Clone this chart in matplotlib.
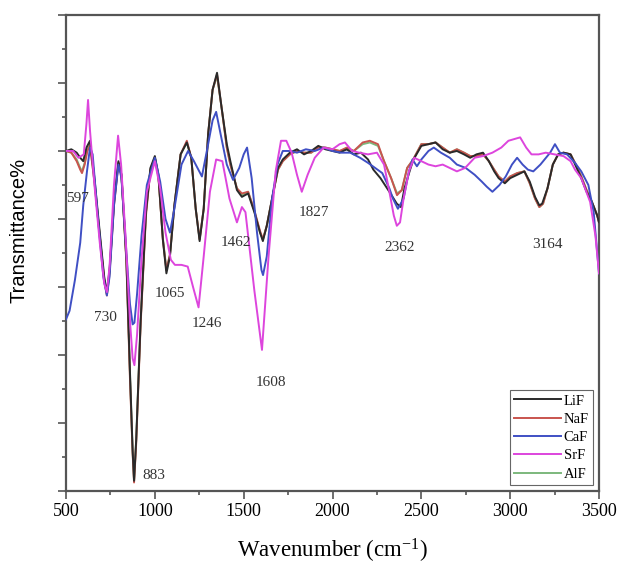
import matplotlib
matplotlib.use("Agg")
import matplotlib.pyplot as plt
from matplotlib.ticker import MultipleLocator, NullFormatter

plt.rcParams['font.family'] = ['Liberation Serif', 'DejaVu Serif']
plt.rcParams['mathtext.fontset'] = 'custom'
plt.rcParams['mathtext.rm'] = 'Liberation Serif'
plt.rcParams['mathtext.it'] = 'Liberation Serif:italic'

# ---------------- data ----------------
lif_wn = [500, 530, 560, 580, 597, 615, 635, 660, 690, 715, 730, 745, 770, 795, 812, 840, 860, 875, 883, 895,
          920, 950, 975, 1000, 1020, 1045, 1065, 1085, 1110, 1145, 1180, 1205, 1230, 1252, 1275, 1300, 1325, 1350,
          1375, 1405, 1425, 1462, 1490, 1525, 1560, 1592, 1608, 1630, 1660, 1693, 1720, 1760, 1800, 1840, 1880,
          1920, 1960, 2000, 2040, 2080, 2120, 2160, 2200, 2230, 2270, 2320, 2362, 2385, 2405, 2436, 2455, 2500,
          2540, 2580, 2620, 2660, 2700, 2740, 2775, 2810, 2847, 2880, 2910, 2935, 2970, 3000, 3040, 3080, 3110,
          3140, 3164, 3180, 3210, 3240, 3270, 3300, 3340, 3370, 3400, 3430, 3460, 3490, 3500]
lif_t = [10.0, 10.05, 9.95, 9.8, 9.7, 10.1, 10.3, 9.2, 7.6, 6.3, 5.85, 6.5, 8.5, 9.7, 9.3, 6.8, 3.5, 1.2, 0.3, 1.5,
         5.0, 8.2, 9.5, 9.85, 9.3, 7.4, 6.4, 6.9, 8.4, 9.9, 10.25, 9.8, 8.3, 7.35, 8.3, 10.5, 11.8, 12.3,
         11.3, 10.2, 9.7, 8.85, 8.65, 8.75, 8.2, 7.6, 7.35, 7.8, 8.6, 9.5, 9.75, 9.95, 10.05, 9.9, 10.0,
         10.15, 10.05, 10.0, 9.95, 10.05, 9.9, 9.95, 9.75, 9.45, 9.2, 8.8, 8.45, 8.35, 8.9, 9.44, 9.74, 10.15,
         10.2, 10.25, 10.05, 9.95, 10.0, 9.9, 9.8, 9.9, 9.95, 9.7, 9.4, 9.2, 9.05, 9.2, 9.3, 9.4, 9.1,
         8.65, 8.4, 8.45, 8.9, 9.6, 9.9, 9.95, 9.9, 9.55, 9.2, 8.8, 8.5, 8.1, 7.9]

naf_wn = [500, 530, 560, 580, 590, 605, 620, 635, 660, 690, 715, 730, 745, 770, 795, 812, 840, 860, 875, 883, 895,
          920, 950, 975, 1000, 1020, 1045, 1065, 1085, 1110, 1145, 1180, 1205, 1230, 1252, 1275, 1300, 1325, 1350,
          1375, 1405, 1425, 1462, 1490, 1525, 1560, 1592, 1608, 1630, 1660, 1693, 1720, 1760, 1800, 1840, 1880,
          1920, 1960, 2000, 2040, 2080, 2120, 2170, 2210, 2256, 2290, 2330, 2363, 2390, 2420, 2453, 2500,
          2540, 2580, 2620, 2660, 2700, 2740, 2775, 2810, 2847, 2880, 2910, 2935, 2970, 3000, 3040, 3080, 3110,
          3140, 3164, 3185, 3210, 3240, 3270, 3300, 3340, 3370, 3400, 3430, 3460, 3490, 3500]
naf_t = [10.0, 9.95, 9.7, 9.45, 9.35, 9.6, 10.0, 10.15, 9.1, 7.5, 6.2, 5.75, 6.4, 8.4, 9.65, 9.3, 6.7, 3.3, 1.1, 0.25, 1.4,
         4.9, 8.1, 9.45, 9.8, 9.25, 7.4, 6.5, 6.95, 8.4, 9.9, 10.3, 9.8, 8.3, 7.4, 8.3, 10.5, 11.8, 12.25,
         11.3, 10.1, 9.6, 8.9, 8.75, 8.8, 8.25, 7.65, 7.4, 7.8, 8.6, 9.45, 9.7, 9.9, 10.0, 9.95, 9.95,
         10.1, 10.1, 10.05, 10.0, 10.1, 10.0, 10.25, 10.3, 10.2, 9.7, 9.2, 8.7, 8.85, 9.5, 9.74, 10.2,
         10.2, 10.25, 10.1, 9.95, 10.05, 9.95, 9.85, 9.85, 9.9, 9.7, 9.45, 9.25, 9.1, 9.25, 9.35, 9.4, 9.05,
         8.6, 8.35, 8.45, 8.9, 9.6, 9.9, 9.95, 9.9, 9.6, 9.25, 8.85, 8.5, 8.1, 7.9]

caf_wn = [500, 520, 550, 580, 597, 618, 635, 650, 680, 710, 730, 745, 770, 795, 812, 840, 860, 875, 885, 900,
          925, 955, 1000, 1030, 1060, 1085, 1110, 1150, 1187, 1220, 1265, 1300, 1325, 1345, 1370, 1405, 1440,
          1475, 1500, 1519, 1545, 1575, 1600, 1609, 1630, 1660, 1690, 1720, 1760, 1800, 1850, 1900, 1950,
          2000, 2050, 2100, 2155, 2200, 2240, 2280, 2320, 2340, 2368, 2400, 2430, 2450, 2475, 2500, 2540,
          2570, 2610, 2660, 2700, 2750, 2800, 2840, 2868, 2900, 2940, 2975, 3010, 3039, 3070, 3100, 3130,
          3170, 3225, 3252, 3280, 3320, 3365, 3400, 3440, 3470, 3500]
caf_t = [5.05, 5.3, 6.2, 7.3, 8.4, 9.4, 10.1, 9.9, 8.0, 6.3, 5.75, 6.3, 8.4, 9.6, 9.2, 7.0, 5.5, 4.9, 4.95, 5.8,
         7.5, 9.0, 9.8, 9.1, 8.0, 7.6, 8.3, 9.6, 10.0, 9.7, 9.25, 10.2, 10.9, 11.15, 10.5, 9.6, 9.15,
         9.5, 9.9, 10.1, 9.2, 7.6, 6.5, 6.35, 6.9, 8.6, 9.6, 10.0, 10.0, 9.95, 10.05, 10.0, 10.1,
         10.0, 9.95, 9.95, 9.8, 9.65, 9.5, 9.35, 8.9, 8.6, 8.3, 8.6, 9.4, 9.75, 9.55, 9.75, 10.0,
         10.1, 9.95, 9.8, 9.6, 9.5, 9.3, 9.1, 8.95, 8.8, 9.0, 9.25, 9.6, 9.8, 9.6, 9.45, 9.4,
         9.6, 9.95, 10.2, 9.95, 9.9, 9.65, 9.4, 9.0, 8.2, 6.4]

srf_wn = [500, 540, 570, 600, 615, 624, 635, 660, 690, 715, 730, 745, 770, 793, 810, 835, 860, 875, 885, 900,
          925, 955, 1000, 1030, 1060, 1090, 1113, 1150, 1185, 1215, 1246, 1275, 1310, 1345, 1380, 1420, 1462,
          1490, 1510, 1560, 1603, 1640, 1680, 1710, 1740, 1770, 1800, 1827, 1860, 1900, 1950, 2000, 2040,
          2070, 2110, 2150, 2200, 2250, 2290, 2320, 2345, 2362, 2380, 2400, 2430, 2460, 2500, 2540, 2580,
          2620, 2660, 2700, 2746, 2800, 2847, 2900, 2950, 2990, 3056, 3090, 3120, 3160, 3200, 3250, 3300,
          3340, 3365, 3400, 3450, 3480, 3500]
srf_t = [10.0, 10.0, 9.8, 9.9, 10.8, 11.5, 10.6, 9.0, 7.3, 6.1, 5.85, 6.6, 9.0, 10.45, 9.6, 7.5, 5.0, 3.9, 3.7, 4.6,
         6.8, 8.8, 9.7, 8.9, 7.6, 6.8, 6.65, 6.65, 6.6, 6.0, 5.4, 6.9, 8.8, 9.75, 9.7, 8.6, 7.9,
         8.35, 8.2, 5.9, 4.15, 6.9, 9.4, 10.3, 10.3, 9.95, 9.3, 8.8, 9.3, 9.8, 10.1, 10.05, 10.2,
         10.25, 10.0, 9.95, 9.9, 9.95, 9.6, 8.8, 8.1, 7.8, 7.9, 8.6, 9.4, 9.8, 9.7, 9.6, 9.55,
         9.6, 9.5, 9.4, 9.5, 9.8, 9.85, 9.95, 10.1, 10.3, 10.4, 10.1, 9.9, 9.9, 9.95, 9.9, 9.85,
         9.7, 9.45, 9.2, 8.5, 7.5, 6.4]

alf_wn = naf_wn
alf_t = [10.0, 9.95, 9.75, 9.5, 9.4, 9.65, 10.05, 10.2, 9.1, 7.5, 6.2, 5.8, 6.45, 8.45, 9.65, 9.3, 6.8, 3.4, 1.15, 0.3, 1.5,
         5.0, 8.2, 9.45, 9.8, 9.25, 7.45, 6.5, 6.95, 8.4, 9.9, 10.25, 9.8, 8.3, 7.4, 8.3, 10.5, 11.8, 12.2,
         11.3, 10.1, 9.6, 8.9, 8.7, 8.8, 8.25, 7.6, 7.4, 7.8, 8.6, 9.45, 9.7, 9.9, 10.0, 9.95, 9.95,
         10.1, 10.1, 10.05, 10.0, 10.05, 10.0, 10.2, 10.25, 10.15, 9.7, 9.2, 8.75, 8.85, 9.5, 9.74, 10.2,
         10.2, 10.25, 10.1, 9.95, 10.05, 9.95, 9.85, 9.85, 9.9, 9.7, 9.45, 9.25, 9.1, 9.25, 9.35, 9.4, 9.05,
         8.6, 8.35, 8.45, 8.9, 9.6, 9.9, 9.95, 9.9, 9.6, 9.25, 8.85, 8.5, 8.1, 7.9]

series_names = ['LiF', 'NaF', 'CaF', 'SrF', 'AlF']
series_colors = ['#2a2a2a', '#c9544e', '#3f4fc4', '#dd45dd', '#7cb87c']

peak_labels = ['597', '730', '883', '1065', '1246', '1462', '1608', '1827', '2362', '3164']
peak_label_x = [567, 720, 995, 1085, 1294, 1457, 1654, 1896, 2380, 3208]
peak_label_y = [8.59, 5.09, 0.47, 5.82, 4.94, 7.32, 3.18, 8.18, 7.15, 7.24]

# ---------------- plot ----------------
fig = plt.figure(figsize=(6.21, 5.69), dpi=100)
ax = fig.add_axes([0.1063, 0.1371, 0.8583, 0.8366])

data = [(lif_wn, lif_t), (naf_wn, naf_t), (caf_wn, caf_t), (srf_wn, srf_t), (alf_wn, alf_t)]
zorders = [4, 3, 5, 6, 2]
handles = []
for (wn, t), name, col, z in zip(data, series_names, series_colors, zorders):
    h, = ax.plot(wn, t, color=col, lw=1.4, label=name, zorder=z)
    handles.append(h)

for lab, lx, ly in zip(peak_labels, peak_label_x, peak_label_y):
    ax.text(lx, ly, lab, fontsize=11, ha='center', va='center', color='#333333', zorder=10)

ax.set_xlim(500, 3500)
ax.set_ylim(0, 14)
ax.xaxis.set_major_locator(MultipleLocator(500))
ax.xaxis.set_minor_locator(MultipleLocator(250))
ax.yaxis.set_major_locator(MultipleLocator(2))
ax.yaxis.set_minor_locator(MultipleLocator(1))
ax.yaxis.set_major_formatter(NullFormatter())
ax.tick_params(axis='both', which='major', direction='out', length=6, width=1.2, color='#555555',
               labelsize=13, pad=3)
ax.tick_params(axis='both', which='minor', direction='out', length=3, width=1.2, color='#555555')
for sp in ax.spines.values():
    sp.set_color('#555555')
    sp.set_linewidth(1.6)

ax.set_xlabel(r'Wavenumber (cm$^{\mathregular{-1}}$)', fontsize=16.5)
ax.xaxis.set_label_coords(0.5, -0.097)
ax.set_ylabel('Transmittance%', fontsize=14.5, family=['Liberation Sans', 'DejaVu Sans'])
ax.yaxis.set_label_coords(-0.071, 0.548)

leg = ax.legend(handles=handles, loc='lower right', fontsize=10.5, frameon=True, fancybox=False,
                edgecolor='#666666', framealpha=1, handlelength=3.2, handletextpad=0.2,
                labelspacing=0.35, borderaxespad=0.4, borderpad=0.3)
leg.get_frame().set_linewidth(0.8)

fig.savefig('out.png', dpi=100)
